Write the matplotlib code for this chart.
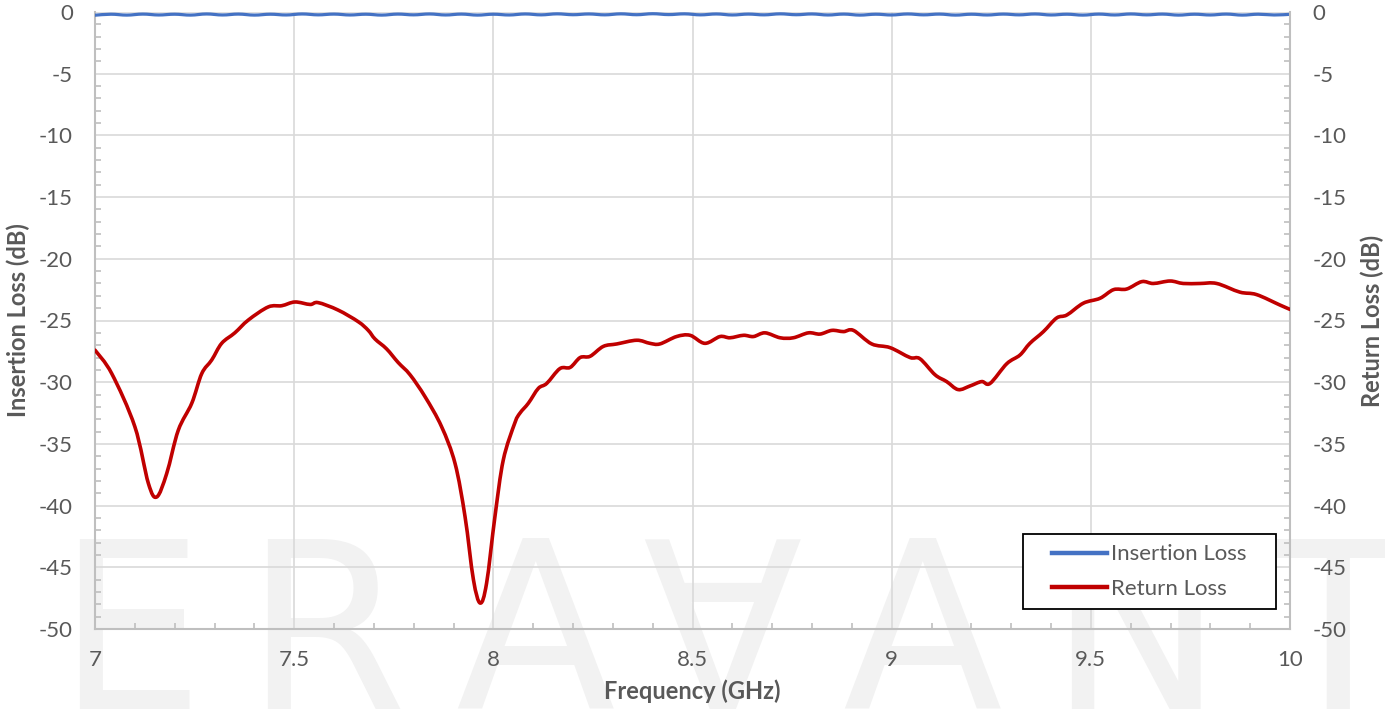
import matplotlib
matplotlib.use("Agg")
import matplotlib.pyplot as plt
import numpy as np
from matplotlib.patches import Rectangle, PathPatch
from matplotlib.path import Path
from matplotlib.lines import Line2D
from matplotlib.ticker import MultipleLocator, FuncFormatter

plt.rcParams['font.family'] = ['Lato', 'DejaVu Sans']
plt.rcParams['axes.unicode_minus'] = False

# Return loss curve (GHz, dB)
rl_freq = [7.0, 7.042, 7.10, 7.134, 7.155, 7.18, 7.209, 7.243, 7.268, 7.293,
           7.318, 7.351, 7.385, 7.435, 7.469, 7.502, 7.54, 7.56, 7.61, 7.661,
           7.686, 7.703, 7.732, 7.761, 7.791, 7.829, 7.870, 7.904, 7.929, 7.950,
           7.967, 7.983, 8.004, 8.025, 8.054, 8.067, 8.088, 8.113, 8.134, 8.167,
           8.193, 8.218, 8.243, 8.276, 8.31, 8.36, 8.393, 8.418, 8.46, 8.494,
           8.531, 8.569, 8.594, 8.628, 8.653, 8.682, 8.72, 8.753, 8.791, 8.82,
           8.85, 8.879, 8.904, 8.95, 8.996, 9.046, 9.071, 9.109, 9.138, 9.167,
           9.197, 9.226, 9.247, 9.289, 9.322, 9.347, 9.381, 9.414, 9.44, 9.481,
           9.523, 9.557, 9.59, 9.628, 9.657, 9.699, 9.732, 9.774, 9.816, 9.874,
           9.916, 9.975, 10.0]
rl_db = [-27.4, -29.3, -33.6, -38.2, -39.3, -37.4, -33.9, -31.7, -29.3, -28.2,
         -26.85, -26.0, -24.96, -23.9, -23.8, -23.5, -23.7, -23.55, -24.15, -25.1,
         -25.8, -26.5, -27.3, -28.4, -29.4, -31.2, -33.6, -36.6, -40.9, -46.0,
         -47.9, -46.3, -40.9, -36.3, -33.3, -32.5, -31.7, -30.5, -30.1, -28.9,
         -28.8, -28.0, -27.9, -27.1, -26.9, -26.6, -26.85, -26.9, -26.3, -26.2,
         -26.85, -26.3, -26.4, -26.2, -26.3, -26.0, -26.4, -26.4, -26.0, -26.1,
         -25.8, -25.9, -25.8, -26.9, -27.2, -28.0, -28.1, -29.4, -29.95, -30.6,
         -30.3, -29.95, -30.1, -28.5, -27.8, -26.85, -25.9, -24.8, -24.55, -23.6,
         -23.2, -22.5, -22.45, -21.85, -22.0, -21.8, -22.0, -22.0, -22.0, -22.7,
         -22.9, -23.75, -24.1]

# Insertion loss: small ripple just below 0 dB
il_db = [-0.26, -0.18, -0.25, -0.17, -0.24, -0.18, -0.25, -0.16, -0.24, -0.17,
         -0.25, -0.18, -0.24, -0.16, -0.23, -0.17, -0.24, -0.18, -0.25, -0.17,
         -0.23, -0.16, -0.24, -0.17, -0.25, -0.18, -0.24, -0.16, -0.23, -0.15,
         -0.22, -0.16, -0.23, -0.15, -0.22, -0.14, -0.21, -0.15, -0.23, -0.16,
         -0.24, -0.17, -0.23, -0.15, -0.22, -0.16, -0.24, -0.17, -0.25, -0.18,
         -0.24, -0.16, -0.23, -0.17, -0.25, -0.18, -0.24, -0.17, -0.23, -0.16,
         -0.24, -0.18, -0.25, -0.17, -0.24, -0.16, -0.23, -0.17, -0.25, -0.18,
         -0.24, -0.17, -0.25, -0.18, -0.24, -0.19]
il_freq = np.linspace(7.0, 10.0, len(il_db))

watermark = ['E', 'R', 'A', '\u2200', 'A', 'N', 'T']
wm_x = [130, 325, 535, 722, 922, 1135, 1338]

grey = '#595959'
axis_grey = '#BFBFBF'
blue = '#4472C4'
red = '#C00000'
fs = 16


def smooth_path(x, y):
    # Excel-style smoothed line: cubic Bezier through every point
    pts = np.column_stack([x, y])
    verts = [pts[0]]
    codes = [Path.MOVETO]
    n = len(pts)
    for i in range(n - 1):
        p0 = pts[max(i - 1, 0)]
        p1 = pts[i]
        p2 = pts[i + 1]
        p3 = pts[min(i + 2, n - 1)]
        verts += [p1 + (p2 - p0) / 6, p2 - (p3 - p1) / 6, p2]
        codes += [Path.CURVE4] * 3
    return Path(verts, codes)


fig = plt.figure(figsize=(13.85, 7.09), dpi=100)

# light watermark behind the plot
for ch, px in zip(watermark, wm_x):
    fig.text(px / 1385, 0.0, ch, fontsize=168, color='#F2F2F2', ha='center',
             va='baseline', family='DejaVu Sans', zorder=-5)

ax = fig.add_axes([95 / 1385, 1 - 629 / 709, 1195 / 1385, 617 / 709])
ax.set_facecolor('none')
ax2 = ax.twinx()

ax.add_patch(PathPatch(smooth_path(il_freq, il_db), facecolor='none', edgecolor=blue,
                       lw=2.3, joinstyle='round', capstyle='round', zorder=3))
ax2.add_patch(PathPatch(smooth_path(rl_freq, rl_db), facecolor='none', edgecolor=red,
                        lw=2.6, joinstyle='round', capstyle='round', zorder=3))

for a in (ax, ax2):
    a.set_xlim(7, 10)
    a.set_ylim(-50, 0)
    a.yaxis.set_major_locator(MultipleLocator(5))
    a.yaxis.set_minor_locator(MultipleLocator(1))
    for s in a.spines.values():
        s.set_visible(False)

ax.xaxis.set_major_locator(MultipleLocator(0.5))
ax.xaxis.set_minor_locator(MultipleLocator(0.1))
ax.xaxis.set_major_formatter(FuncFormatter(lambda v, p: f'{v:g}'))

ax.grid(True, which='major', color='#D9D9D9', lw=1.2)
ax.set_axisbelow(True)

ax.spines['left'].set_visible(True)
ax.spines['bottom'].set_visible(True)
ax2.spines['right'].set_visible(True)
for s in (ax.spines['left'], ax.spines['bottom'], ax2.spines['right']):
    s.set_color(axis_grey)
    s.set_linewidth(1.5)

ax.tick_params(axis='both', which='major', length=0, labelsize=fs, labelcolor=grey)
ax.tick_params(axis='y', which='major', pad=16)
ax.tick_params(axis='x', which='major', pad=15)
ax.tick_params(axis='both', which='minor', direction='in', length=4, width=1.2, color=axis_grey)
ax2.tick_params(axis='y', which='major', length=0, labelsize=fs, labelcolor=grey, pad=16)
ax2.tick_params(axis='y', which='minor', direction='in', length=4, width=1.2, color=axis_grey)

ax.set_xlabel('Frequency (GHz)', fontsize=17, fontweight='bold', color=grey, labelpad=7)
ax.set_ylabel('Insertion Loss (dB)', fontsize=17, fontweight='bold', color=grey, labelpad=6)
ax2.set_ylabel('Return Loss (dB)', fontsize=17, fontweight='bold', color=grey, labelpad=10)

# legend box
x0, y0 = (1023 - 95) / 1195, (629 - 609) / 617
w, h = (1276 - 1023) / 1195, (609 - 534) / 617
ax2.add_patch(Rectangle((x0, y0), w, h, transform=ax2.transAxes, facecolor='white',
                        edgecolor='black', lw=1.3, zorder=8, clip_on=False))
handles = [Line2D([], [], color=blue, lw=3.2), Line2D([], [], color=red, lw=3.2)]
leg = ax2.legend(handles, ['Insertion Loss', 'Return Loss'], loc='center',
                 bbox_to_anchor=(x0, y0, w, h), frameon=False, fontsize=fs,
                 handlelength=2.45, handletextpad=0.22, labelspacing=0.65,
                 labelcolor=grey)
leg.set_zorder(9)

fig.savefig('out.png', dpi=100)
